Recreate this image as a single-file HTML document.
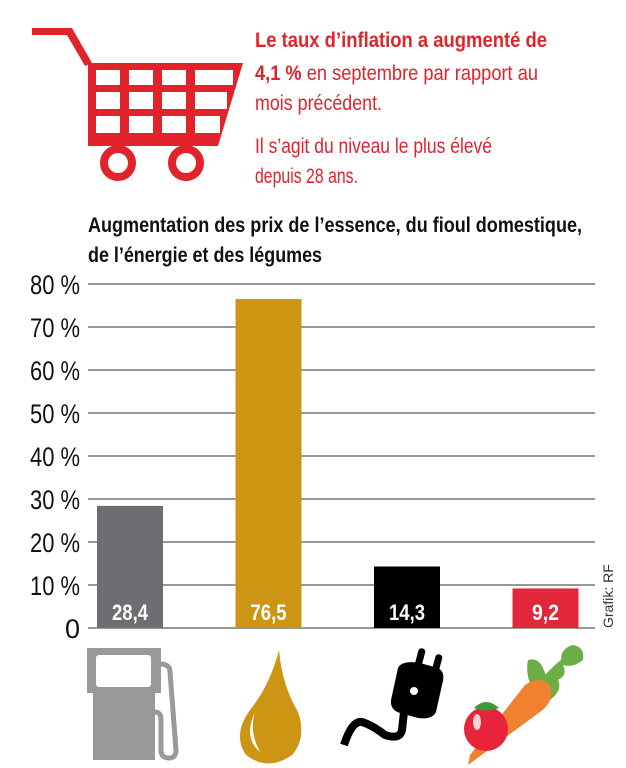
<!DOCTYPE html>
<html><head><meta charset="utf-8"><style>
body{margin:0;background:#fff;width:626px;height:768px;overflow:hidden;font-family:"Liberation Sans Narrow","Liberation Sans",sans-serif}
svg{position:absolute;left:0;top:0}
</style></head><body>
<svg width="626" height="768">
<g fill="#e3232c">
<polygon points="32,28 72,28 92,63 85,66 67,35 32,35"/>
<polygon points="88,63 243,63 218,146 88,146"/>
<g fill="#fff">
<rect x="96" y="70" width="24" height="15"/><rect x="129" y="70" width="24" height="15"/><rect x="162" y="70" width="24" height="15"/><rect x="195" y="70" width="38" height="15"/>
<rect x="96" y="92" width="24" height="17"/><rect x="129" y="92" width="24" height="17"/><rect x="162" y="92" width="24" height="17"/><rect x="195" y="92" width="32" height="17"/>
<rect x="96" y="116" width="24" height="17"/><rect x="129" y="116" width="24" height="17"/><rect x="162" y="116" width="24" height="17"/><rect x="195" y="116" width="25" height="17"/>
</g>
<circle cx="118" cy="163" r="14" fill="none" stroke="#e3232c" stroke-width="8"/>
<circle cx="186" cy="163" r="14" fill="none" stroke="#e3232c" stroke-width="8"/>
</g>
<g fill="#e3232c" font-size="21">
<text x="255" y="47" font-weight="bold" textLength="292" lengthAdjust="spacingAndGlyphs">Le taux d’inflation a augmenté de</text>
<text x="255" y="80" textLength="283" lengthAdjust="spacingAndGlyphs"><tspan font-weight="bold">4,1 %</tspan> en septembre par rapport au</text>
<text x="255" y="110" textLength="127" lengthAdjust="spacingAndGlyphs">mois précédent.</text>
<text x="255" y="153" textLength="237" lengthAdjust="spacingAndGlyphs">Il s’agit du niveau le plus élevé</text>
<text x="255" y="183" textLength="103" lengthAdjust="spacingAndGlyphs">depuis 28 ans.</text>
</g>
<g fill="#111" font-size="21" font-weight="bold">
<text x="88" y="232" textLength="494" lengthAdjust="spacingAndGlyphs">Augmentation des prix de l’essence, du fioul domestique,</text>
<text x="88" y="262" textLength="234" lengthAdjust="spacingAndGlyphs">de l’énergie et des légumes</text>
</g>
<g id="grid"></g>
<g id="ylabels"></g>
<g id="bars"></g>
<text x="0" y="0" transform="translate(613,628) rotate(-90)" font-family="Liberation Sans,sans-serif" font-size="14" fill="#333">Grafik: RF</text>
<g fill="#999">
<rect x="87" y="648" width="74" height="45"/><rect x="93" y="690" width="62" height="70"/>
<rect x="96" y="655" width="55" height="32" fill="#fff" rx="3"/>
<path d="M160,664 Q170,664 170,672 L176,750 Q176,758 169,758 Q161,758 161,750 L161,720 Q161,712 155,712" fill="none" stroke="#999" stroke-width="5"/>
</g>
<path d="M279,650 Q270,685 250,710 Q232,735 246,755 Q268,772 292,755 Q307,738 298,712 Q282,685 279,650Z" fill="#cc9614"/>
<path d="M255,712 Q243,738 260,752 Q249,732 255,712Z" fill="#fff"/>
<g fill="#000">
<rect x="416" y="648" width="7" height="24" rx="3" transform="rotate(15 419 660)"/>
<rect x="433" y="654" width="7" height="24" rx="3" transform="rotate(15 436 666)"/>
<path d="M398,668 Q402,660 420,663 L438,668 Q446,672 442,685 L436,712 Q432,720 418,718 L400,713 Q390,710 391,700Z"/>
<path d="M404,712 L402,730 Q400,740 385,735 Q372,725 362,722 Q352,720 344,745" fill="none" stroke="#000" stroke-width="8"/>
<circle cx="414" cy="691" r="4" fill="#fff"/>
</g>
<g>
<path d="M533,690 q15,-20 28,-30 q0,-12 12,-15 q12,2 10,15 q-10,8 -20,5 q5,10 -5,15 q5,10 -8,20z" fill="#6aae45"/>
<path d="M533,690 q-8,-15 -5,-30 q10,-3 15,8 q5,10 5,20z" fill="#6aae45"/>
<path d="M470,755 L525,685 Q540,675 550,685 Q556,700 540,712 L468,765Z" fill="#f08131"/>
<circle cx="486" cy="729" r="22" fill="#e8243a"/>
<ellipse cx="477" cy="722" rx="4" ry="8" fill="#fff" opacity=".8"/>
<path d="M474,708 q12,-12 25,0 q-12,5 -25,0z" fill="#3c9a3a"/>
</g>
</svg>
<script>
const categories=["Essence","Fioul domestique","Énergie","Légumes"];
const values=[28.4,76.5,14.3,9.2];
const labels=["28,4","76,5","14,3","9,2"];
const colors=["#6d6e71","#cc9614","#000000","#e3273a"];
const ticks=[0,10,20,30,40,50,60,70,80];
const tickLabels=["0","10 %","20 %","30 %","40 %","50 %","60 %","70 %","80 %"];
const NS="http://www.w3.org/2000/svg";
const y0=628,y1=284,vmax=80;
function y(v){return y0-(v/vmax)*(y0-y1);}
function x(i){return 97+i*138.5;}
const bw=66;
const grid=document.getElementById('grid'),yl=document.getElementById('ylabels'),bars=document.getElementById('bars');
ticks.forEach((t,i)=>{
 const l=document.createElementNS(NS,'line');
 l.setAttribute('x1',88);l.setAttribute('x2',595);l.setAttribute('y1',y(t));l.setAttribute('y2',y(t));
 l.setAttribute('stroke','#777');l.setAttribute('stroke-width','1.5');
 
 
 grid.appendChild(l);
 const tx=document.createElementNS(NS,'text');
 tx.setAttribute('x',80);tx.setAttribute('y',y(t)+10);tx.setAttribute('text-anchor','end');
 tx.setAttribute('font-size','27');tx.setAttribute('fill','#111');
 if(i>0){tx.setAttribute('textLength','50');tx.setAttribute('lengthAdjust','spacingAndGlyphs');}
 tx.textContent=tickLabels[i];
 
 
 yl.appendChild(tx);
});
values.forEach((v,i)=>{
 const r=document.createElementNS(NS,'rect');
 r.setAttribute('x',x(i));r.setAttribute('y',y(v));r.setAttribute('width',bw);r.setAttribute('height',y0-y(v));
 r.setAttribute('fill',colors[i]);
 
 
 bars.appendChild(r);
 const t=document.createElementNS(NS,'text');
 t.setAttribute('x',x(i)+bw/2);t.setAttribute('y',620);t.setAttribute('text-anchor','middle');
 t.setAttribute('font-size','22');t.setAttribute('font-weight','bold');t.setAttribute('fill','#fff');
 t.setAttribute('textLength',labels[i].length*9);t.setAttribute('lengthAdjust','spacingAndGlyphs');
 t.textContent=labels[i];
 
 
 bars.appendChild(t);
});
</script>
</body></html>
